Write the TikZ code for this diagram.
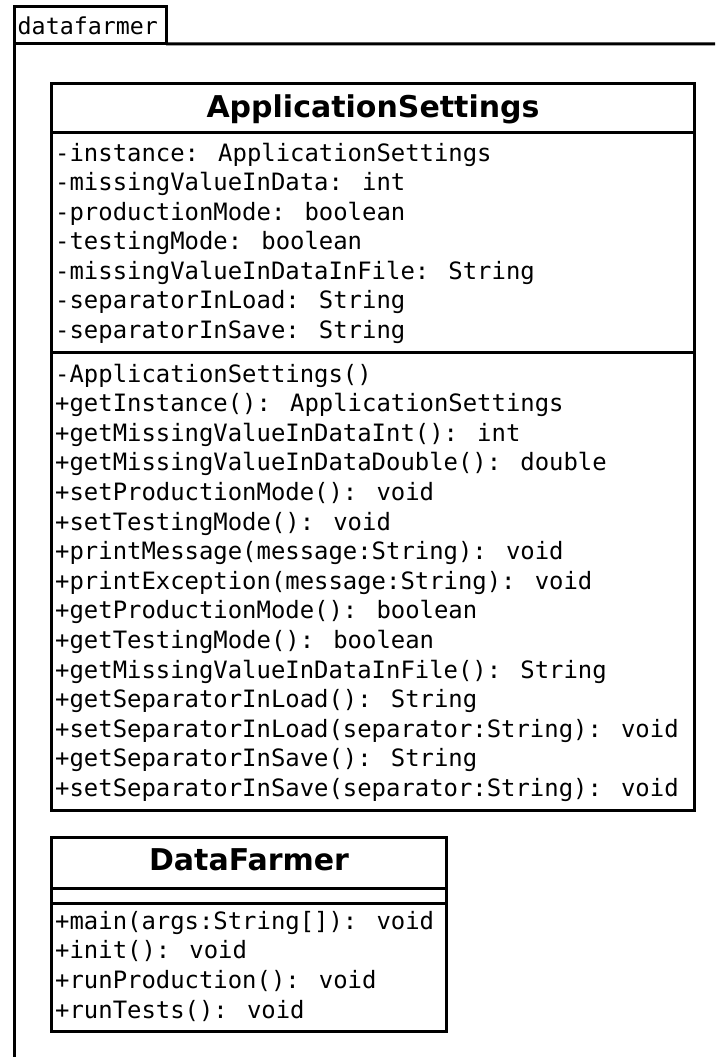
\documentclass[tikz,border=0pt]{standalone}
\usepackage{fontspec}
\newfontfamily\umlmono{DejaVu Sans Mono}
\newfontfamily\umlsans{DejaVu Sans}
\begin{document}
\begin{tikzpicture}[x=1pt,y=-1pt,
  umlpart/.style={draw=black, line width=3pt, rectangle, anchor=north west,
    inner sep=0pt, outer sep=0pt, fill=white},
  membertext/.style={anchor=base west, inner sep=0pt,
    font=\umlmono\fontsize{23.9}{29.5}\selectfont},
  titletext/.style={anchor=base, inner sep=0pt,
    font=\umlsans\bfseries\fontsize{30}{36}\selectfont},
  pkgtext/.style={anchor=base west, inner sep=0pt,
    font=\umlmono\fontsize{23.3}{28}\selectfont}]
\useasboundingbox[fill=white] (0,0) rectangle (715,1057);

% package frame with its name tab
\node[umlpart, minimum width=151.7pt, minimum height=37.3pt] (tab) at (14.3,6.7) {};
\node[pkgtext] (pkgname) at (17.5,35) {datafarmer};
\coordinate (pkgtop) at (715,44);
\coordinate (pkgbottom) at (14.3,1057);
\draw[line width=3pt] (tab.south east) -- (pkgtop);
\draw[line width=3pt] (tab.north west) -- (pkgbottom);

% class ApplicationSettings
\node[umlpart, minimum width=643pt, minimum height=49.3pt] (ashead) at (51.5,83) {};
\node[umlpart, minimum width=643pt, minimum height=219.7pt] (asattr) at (51.5,132.3) {};
\node[umlpart, minimum width=643pt, minimum height=458.8pt] (asops) at (51.5,352) {};
\node[titletext] (astitle) at (373,117) {ApplicationSettings};

\foreach \t [count=\i from 0] in {
  {-instance: ApplicationSettings},
  {-missingValueInData: int},
  {-productionMode: boolean},
  {-testingMode: boolean},
  {-missingValueInDataInFile: String},
  {-separatorInLoad: String},
  {-separatorInSave: String}}
  \node[membertext] (asa\i) at (55,161+29.5*\i) {\t};

\foreach \t [count=\i from 0] in {
  {-ApplicationSettings()},
  {+getInstance(): ApplicationSettings},
  {+getMissingValueInDataInt(): int},
  {+getMissingValueInDataDouble(): double},
  {+setProductionMode(): void},
  {+setTestingMode(): void},
  {+printMessage(message:String): void},
  {+printException(message:String): void},
  {+getProductionMode(): boolean},
  {+getTestingMode(): boolean},
  {+getMissingValueInDataInFile(): String},
  {+getSeparatorInLoad(): String},
  {+setSeparatorInLoad(separator:String): void},
  {+getSeparatorInSave(): String},
  {+setSeparatorInSave(separator:String): void}}
  \node[membertext] (aso\i) at (55,382+29.6*\i) {\t};

% class DataFarmer
\node[umlpart, minimum width=395.2pt, minimum height=51.7pt] (dfhead) at (51.5,837) {};
\node[umlpart, minimum width=395.2pt, minimum height=14.6pt] (dfattr) at (51.5,888.7) {};
\node[umlpart, minimum width=395.2pt, minimum height=128pt] (dfops) at (51.5,903.3) {};
\node[titletext] (dftitle) at (249,870) {DataFarmer};

\foreach \t [count=\i from 0] in {
  {+main(args:String[]): void},
  {+init(): void},
  {+runProduction(): void},
  {+runTests(): void}}
  \node[membertext] (dfo\i) at (55,929+29.8*\i) {\t};
\end{tikzpicture}
\end{document}
